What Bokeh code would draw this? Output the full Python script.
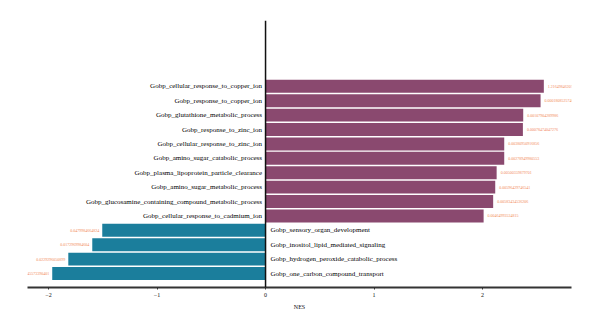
from bokeh.plotting import figure
from bokeh.models import Range1d, Span, ColumnDataSource, FixedTicker
from bokeh.core.properties import value
from bokeh.embed import file_html
from bokeh.resources import INLINE

terms = [
    "Gobp_cellular_response_to_copper_ion",
    "Gobp_response_to_copper_ion",
    "Gobp_glutathione_metabolic_process",
    "Gobp_response_to_zinc_ion",
    "Gobp_cellular_response_to_zinc_ion",
    "Gobp_amino_sugar_catabolic_process",
    "Gobp_plasma_lipoprotein_particle_clearance",
    "Gobp_amino_sugar_metabolic_process",
    "Gobp_glucosamine_containing_compound_metabolic_process",
    "Gobp_cellular_response_to_cadmium_ion",
    "Gobp_sensory_organ_development",
    "Gobp_inositol_lipid_mediated_signaling",
    "Gobp_hydrogen_peroxide_catabolic_process",
    "Gobp_one_carbon_compound_transport",
]
nes = [2.565, 2.535, 2.375, 2.372, 2.20, 2.20, 2.13, 2.117, 2.098, 2.01,
       -1.505, -1.597, -1.818, -1.966]
pvals = [
    "1.21649846207e-07", "0.000180852574095", "0.00107904289986", "0.00078474047276",
    "0.00380950916856", "0.00278949980553", "0.00500359879701", "0.00596429746541",
    "0.00583434536206", "0.00464993534815",
    "0.0479984664824", "0.0172969984604", "0.0229296050899", "0.0445573390401",
]

POS = "#8A496F"
NEG = "#1B7E9C"
ORANGE = "#F28A5C"
SERIF = "Liberation Serif"

n = len(terms)
ypos = [n - 1 - i for i in range(n)]
colors = [POS if v > 0 else NEG for v in nes]

src = ColumnDataSource(dict(y=ypos, nes=nes, term=terms, p=pvals, color=colors))
pos_idx = [i for i, v in enumerate(nes) if v > 0]
neg_idx = [i for i, v in enumerate(nes) if v <= 0]

def sub(idx):
    return ColumnDataSource(dict(
        y=[ypos[i] for i in idx], nes=[nes[i] for i in idx],
        term=[terms[i] for i in idx], p=[pvals[i] for i in idx],
        zero=[0] * len(idx)))

psrc = sub(pos_idx)
nsrc = sub(neg_idx)

p = figure(width=600, height=328, output_backend="svg", toolbar_location=None,
           x_range=Range1d(-2.194, 2.82), y_range=Range1d(-0.97, 17.57),
           min_border_left=27, min_border_right=29, min_border_top=20,
           min_border_bottom=41)
p.outline_line_color = None
p.grid.visible = False
p.yaxis.visible = False

p.hbar(y="y", left=0, right="nes", height=0.9, color="color", line_color=None, source=src)

p.add_layout(Span(location=0, dimension="height", line_color="#111111", line_width=1.5))

# category labels
p.text(x="zero", y="y", text="term", source=psrc, x_offset=-3.5, text_align="right",
       text_baseline="middle", text_font=value(SERIF), text_font_size="7px", text_color="#000000")
p.text(x="zero", y="y", text="term", source=nsrc, x_offset=5, text_align="left",
       text_baseline="middle", text_font=value(SERIF), text_font_size="7px", text_color="#000000")

# p-value labels
p.text(x="nes", y="y", text="p", source=psrc, x_offset=4, text_align="left",
       text_baseline="middle", text_font=value(SERIF), text_font_size="4px", text_color=ORANGE)
p.text(x="nes", y="y", text="p", source=nsrc, x_offset=-3, text_align="right",
       text_baseline="middle", text_font=value(SERIF), text_font_size="4px", text_color=ORANGE)

ax = p.xaxis[0]
ax.ticker = FixedTicker(ticks=[-2, -1, 0, 1, 2])
ax.axis_line_width = 2
ax.axis_line_color = "#333333"
ax.major_tick_line_color = "#333333"
ax.major_tick_out = 2
ax.major_tick_in = 0
ax.minor_tick_line_color = None
ax.major_label_text_font = SERIF
ax.major_label_text_font_size = "6px"
ax.major_label_text_color = "#111111"
ax.major_label_standoff = 3
ax.axis_label = "NES"
ax.axis_label_text_font = SERIF
ax.axis_label_text_font_size = "6px"
ax.axis_label_text_font_style = "normal"
ax.axis_label_text_color = "#111111"
ax.axis_label_standoff = 4

open("out.html", "w").write(file_html(p, INLINE))
